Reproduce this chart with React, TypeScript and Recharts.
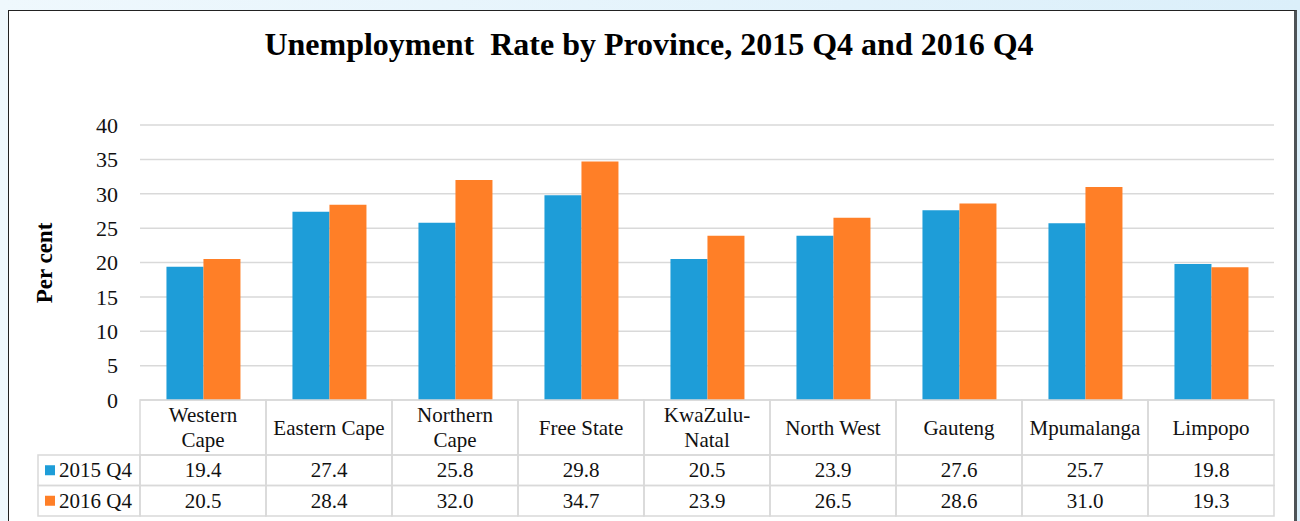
import React from "react";
import { BarChart, Bar, XAxis, YAxis, CartesianGrid } from "recharts";

/* ------------------------------------------------------------------ */
/*  Data                                                               */
/* ------------------------------------------------------------------ */

const provinces = [
  "Western Cape",
  "Eastern Cape",
  "Northern Cape",
  "Free State",
  "KwaZulu-Natal",
  "North West",
  "Gauteng",
  "Mpumalanga",
  "Limpopo",
];

const q4_2015 = [19.4, 27.4, 25.8, 29.8, 20.5, 23.9, 27.6, 25.7, 19.8];
const q4_2016 = [20.5, 28.4, 32.0, 34.7, 23.9, 26.5, 28.6, 31.0, 19.3];

const yTicks = [0, 5, 10, 15, 20, 25, 30, 35, 40];

const seriesNames = ["2015 Q4", "2016 Q4"];

// how the category names wrap inside the data table header
const WRAPPED: Record<string, string[]> = {
  "Western Cape": ["Western", "Cape"],
  "Northern Cape": ["Northern", "Cape"],
  "KwaZulu-Natal": ["KwaZulu-", "Natal"],
};

const data = provinces.map((name, i) => ({
  name,
  a: q4_2015[i],
  b: q4_2016[i],
}));

/* ------------------------------------------------------------------ */
/*  Layout / style                                                     */
/* ------------------------------------------------------------------ */

const BLUE = "#1e9dd8";
const ORANGE = "#ff7f27";
const GRID = "#d9d9d9";
const FONT = "'Liberation Serif', 'Times New Roman', serif";

const W = 1300;
const H = 521;
const PLOT_LEFT = 140;
const PLOT_RIGHT = 1274;
const COL_W = (PLOT_RIGHT - PLOT_LEFT) / provinces.length;

const HEAD_H = 55;
const ROW_H = 30.5;
const LEGEND_LEFT = 38;

/* ------------------------------------------------------------------ */
/*  Data table drawn as the x axis ticks                               */
/* ------------------------------------------------------------------ */

function TableTick(props: any) {
  const { x, y, payload } = props;
  const idx = payload.index;
  const name = provinces[idx];
  const lines = WRAPPED[name] || [name];
  const left = x - COL_W / 2;
  const values = [q4_2015[idx], q4_2016[idx]];
  const colors = [BLUE, ORANGE];

  return (
    <g fontFamily={FONT} fontSize={21} fill="#111">
      <rect x={left} y={y} width={COL_W} height={HEAD_H} fill="none" stroke={GRID} strokeWidth={1.5} />
      {lines.map((ln, k) => (
        <text
          key={k}
          x={x}
          y={y + HEAD_H / 2 + (k - (lines.length - 1) / 2) * 25}
          textAnchor="middle"
          dominantBaseline="central"
        >
          {ln}
        </text>
      ))}
      {values.map((v, r) => (
        <g key={r}>
          <rect
            x={left}
            y={y + HEAD_H + r * ROW_H}
            width={COL_W}
            height={ROW_H}
            fill="none"
            stroke={GRID}
            strokeWidth={1.5}
          />
          <text x={x} y={y + HEAD_H + r * ROW_H + ROW_H / 2} textAnchor="middle" dominantBaseline="central">
            {v.toFixed(1)}
          </text>
        </g>
      ))}
      {idx === 0 &&
        seriesNames.map((s, r) => (
          <g key={s}>
            <rect
              x={LEGEND_LEFT}
              y={y + HEAD_H + r * ROW_H}
              width={PLOT_LEFT - LEGEND_LEFT}
              height={ROW_H}
              fill="none"
              stroke={GRID}
              strokeWidth={1.5}
            />
            <rect x={45} y={y + HEAD_H + r * ROW_H + ROW_H / 2 - 5} width={10} height={10} fill={colors[r]} />
            <text x={59} y={y + HEAD_H + r * ROW_H + ROW_H / 2} dominantBaseline="central">
              {s}
            </text>
          </g>
        ))}
    </g>
  );
}

/* ------------------------------------------------------------------ */
/*  Component                                                          */
/* ------------------------------------------------------------------ */

export default function App() {
  return (
    <div
      style={{
        position: "absolute",
        left: 0,
        top: 0,
        width: W,
        height: H,
        overflow: "hidden",
        background: "linear-gradient(to right, #eff8fd, #dbeffa)",
        fontFamily: FONT,
      }}
    >
      <div
        style={{
          position: "absolute",
          left: 8,
          top: 10,
          width: 1285,
          height: 530,
          background: "#fff",
          borderLeft: "1.5px solid #222",
          borderTop: "1.5px solid #222",
          borderRight: "3px solid #4d5256",
        }}
      />
      <div
        style={{
          position: "absolute",
          left: 0,
          top: 28,
          width: W - 2,
          textAlign: "center",
          fontSize: 32,
          lineHeight: "32px",
          fontWeight: "bold",
          whiteSpace: "pre",
          color: "#000",
        }}
      >
        {"Unemployment  Rate by Province, 2015 Q4 and 2016 Q4"}
      </div>
      <div style={{ position: "absolute", left: 0, top: 0 }}>
        <BarChart
          width={W}
          height={H}
          data={data}
          margin={{ top: 125, right: W - PLOT_RIGHT, bottom: 0, left: 0 }}
          barCategoryGap="21%"
          barGap={0}
        >
          <CartesianGrid vertical={false} stroke={GRID} strokeWidth={1.5} />
          <XAxis
            dataKey="name"
            height={H - 400}
            axisLine={false}
            tickLine={false}
            tickSize={0}
            tickMargin={0}
            interval={0}
            tick={(p: any) => <TableTick {...p} />}
          />
          <YAxis
            width={PLOT_LEFT}
            domain={[0, 40]}
            ticks={yTicks}
            axisLine={false}
            tickLine={false}
            tickSize={0}
            tickMargin={22}
            tick={{ fontFamily: FONT, fontSize: 22, fill: "#111" }}
            label={() => (
              <text
                x={44}
                y={263}
                transform="rotate(-90, 44, 263)"
                textAnchor="middle"
                dominantBaseline="central"
                fontFamily={FONT}
                fontSize={23}
                fontWeight="bold"
                fill="#000"
              >
                Per cent
              </text>
            )}
          />
          <Bar dataKey="a" name={seriesNames[0]} fill={BLUE} isAnimationActive={false} />
          <Bar dataKey="b" name={seriesNames[1]} fill={ORANGE} isAnimationActive={false} />
        </BarChart>
      </div>
    </div>
  );
}
